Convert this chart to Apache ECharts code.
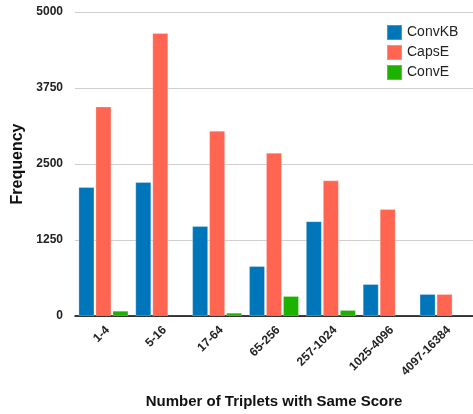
<!DOCTYPE html>
<html>
<head>
<meta charset="utf-8">
<script src="https://cdn.jsdelivr.net/npm/echarts@6/dist/echarts.min.js"></script>
<style>html,body{margin:0;padding:0;background:#fff;}#c{width:473px;height:414px;}</style>
</head>
<body>
<div id="c"></div>
<script>
var categories = ['1-4', '5-16', '17-64', '65-256', '257-1024', '1025-4096', '4097-16384'];
var convKB = [2120, 2205, 1480, 822, 1560, 526, 362];
var capsE = [3447, 4655, 3048, 2686, 2231, 1760, 362];
var convE = [87, null, 54, 329, 99, null, null];
var yTicks = [0, 1250, 2500, 3750, 5000];

var chart = echarts.init(document.getElementById('c'));
var border = {borderColor: 'rgba(255,255,255,0.25)', borderWidth: 1};
chart.setOption({
  animation: false,
  textStyle: {fontFamily: 'Liberation Sans, Arial, sans-serif'},
  grid: {left: 75, right: 0, top: 12, bottom: 98},
  legend: {
    orient: 'vertical', left: 386, top: 24, padding: 0,
    itemWidth: 15, itemHeight: 15, itemGap: 3,
    icon: 'rect',
    textStyle: {fontSize: 14, color: '#222'},
    data: ['ConvKB', 'CapsE', 'ConvE']
  },
  xAxis: {
    type: 'category', data: categories,
    axisLine: {lineStyle: {color: '#000', width: 1.5}},
    axisTick: {show: false},
    axisLabel: {rotate: 45, fontSize: 12, fontWeight: 'bold', color: '#222', margin: 8, interval: 0, verticalAlign: 'top'},
    name: 'Number of Triplets with Same Score', nameLocation: 'middle', nameGap: 78,
    nameTextStyle: {fontSize: 15, fontWeight: 'bold', color: '#111'}
  },
  yAxis: {
    type: 'value', min: yTicks[0], max: yTicks[yTicks.length - 1], interval: yTicks[1] - yTicks[0],
    axisLine: {show: false}, axisTick: {show: false},
    splitLine: {lineStyle: {color: '#cfcfcf', width: 1}},
    axisLabel: {fontSize: 12, fontWeight: 'bold', color: '#222', margin: 12, formatter: function (v) { return String(v); }},
    name: 'Frequency', nameLocation: 'middle', nameGap: 46,
    nameTextStyle: {fontSize: 16, fontWeight: 'bold', color: '#111'}
  },
  series: [
    {name: 'ConvKB', type: 'bar', data: convKB, barGap: '6%', barCategoryGap: '12%',
     itemStyle: Object.assign({color: '#0076BA'}, border)},
    {name: 'CapsE', type: 'bar', data: capsE,
     itemStyle: Object.assign({color: '#FF6550'}, border)},
    {name: 'ConvE', type: 'bar', data: convE,
     itemStyle: Object.assign({color: '#1DB100'}, border)}
  ]
});
</script>
</body>
</html>
